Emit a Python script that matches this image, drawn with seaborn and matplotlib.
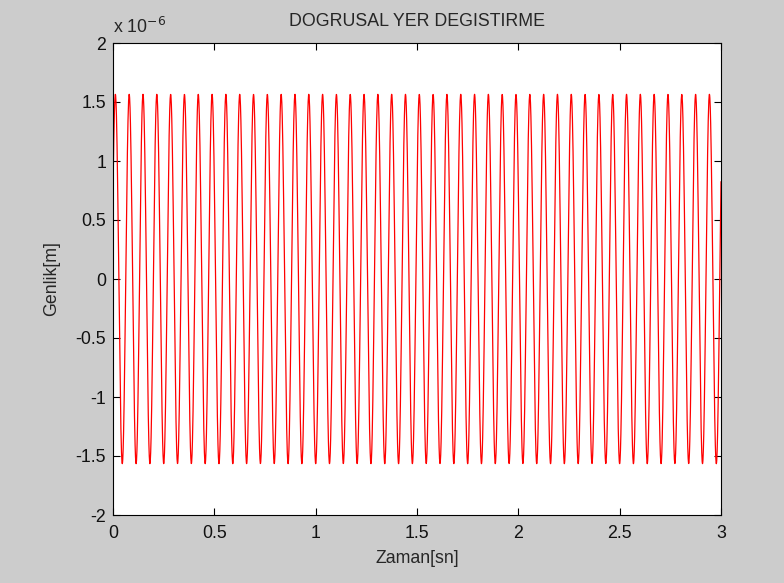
import numpy as np
import pandas as pd
import matplotlib
matplotlib.use("Agg")
import matplotlib.pyplot as plt
import seaborn as sns

# Linear displacement of the vibrating mass: x(t) = X * sin(w t + phi)
amplitude_m = 1.565e-6       # steady displacement amplitude [m]
frequency_hz = 14.67         # oscillation frequency [Hz]
initial_disp_m = 0.74e-6     # displacement at t = 0 [m]
t_end_s = 3.0
dt_s = 0.001

x_ticks = [0, 0.5, 1, 1.5, 2, 2.5, 3]
x_tick_labels = ["0", "0.5", "1", "1.5", "2", "2.5", "3"]
y_ticks_scaled = [-2, -1.5, -1, -0.5, 0, 0.5, 1, 1.5, 2]
y_tick_labels = ["-2", "-1.5", "-1", "-0.5", "0", "0.5", "1", "1.5", "2"]
y_scale = 1e-6

t = np.arange(0, t_end_s + dt_s / 2, dt_s)
phase = np.arcsin(initial_disp_m / amplitude_m)
disp = amplitude_m * np.sin(2 * np.pi * frequency_hz * t + phase)
df = pd.DataFrame({"Zaman": t, "Genlik": disp})

sns.set_style("ticks")
plt.rcParams["font.family"] = ["Liberation Sans", "DejaVu Sans"]
plt.rcParams["xtick.direction"] = "in"
plt.rcParams["ytick.direction"] = "in"

fs = 12.8
fig = plt.figure(figsize=(7.84, 5.83), dpi=100, facecolor="#cccccc")
ax = fig.add_axes([113 / 784, 1 - 515 / 583, (721 - 113) / 784, (515 - 43) / 583])
ax.set_facecolor("white")

sns.lineplot(data=df, x="Zaman", y="Genlik", ax=ax, color="red", linewidth=0.9,
             estimator=None, sort=False)

ax.set_xlim(0, 3)
ax.set_ylim(-2 * y_scale, 2 * y_scale)
ax.set_xticks(x_ticks)
ax.set_xticklabels(x_tick_labels)
ax.set_yticks([v * y_scale for v in y_ticks_scaled])
ax.set_yticklabels(y_tick_labels)

for side in ["top", "right", "bottom", "left"]:
    ax.spines[side].set_visible(True)
    ax.spines[side].set_color("black")
    ax.spines[side].set_linewidth(0.8)
ax.tick_params(axis="both", which="both", direction="in", length=5, width=0.8,
               top=True, right=True, labelsize=fs, colors="black",
               labelcolor="#111111")
ax.tick_params(axis="x", pad=7)
ax.tick_params(axis="y", pad=5)

ax.set_title("DOGRUSAL YER DEGISTIRME", fontsize=fs, pad=12)
ax.set_xlabel("Zaman[sn]", fontsize=fs, labelpad=6)
ax.set_ylabel("Genlik[m]", fontsize=fs, labelpad=11)

ax.text(0.0, 1.012, r"x 10$^{-6}$", transform=ax.transAxes, fontsize=fs,
        ha="left", va="bottom")

fig.savefig("out.png", dpi=100, facecolor=fig.get_facecolor())
